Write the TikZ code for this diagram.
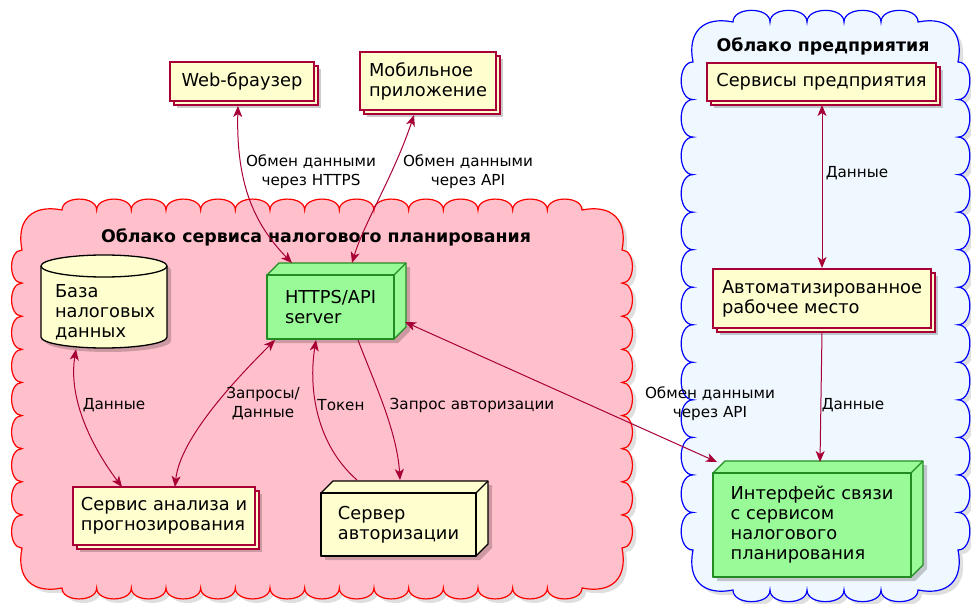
\documentclass[tikz,border=0pt]{standalone}
\usepackage{fontspec}
\setmainfont{DejaVu Sans}
\usetikzlibrary{arrows.meta,shadows}
\definecolor{cfill}{HTML}{FEFECE}
\definecolor{cbord}{HTML}{A80036}
\definecolor{gfill}{HTML}{98FB98}
\definecolor{gbord}{HTML}{228B22}
\definecolor{pinkf}{HTML}{FFC0CB}
\definecolor{bluef}{HTML}{F0F8FF}
\definecolor{arrc}{HTML}{A80036}
\tikzset{
  nfont/.style={font=\fontsize{17.8}{20}\selectfont},
  collbox/.style={draw=cbord, fill=cfill, line width=1.3pt, align=left, inner sep=0pt, outer sep=0pt, nfont},
  ybox/.style={draw=black, fill=cfill, line width=1.3pt, line join=round},
  gbox/.style={draw=gbord, fill=gfill, line width=1.3pt, line join=round},
  nshadow/.style={fill=black, opacity=0.2},
  conn/.style={draw=arrc, line width=1pt, >={Stealth[length=11pt,width=9pt,inset=3pt]}},
  lbl/.style={font=\fontsize{15.2}{19}\selectfont, align=center, inner sep=0pt},
  ttl/.style={font=\fontsize{17.4}{20}\selectfont\bfseries, inner sep=0pt},
  redcloud/.style={draw=red, fill=pinkf, line width=1.2pt, drop shadow={shadow xshift=4pt, shadow yshift=-4pt, opacity=0.25}},
  bluecloud/.style={draw=blue, fill=bluef, line width=1.2pt, drop shadow={shadow xshift=4pt, shadow yshift=-4pt, opacity=0.25}},
}
\newcommand\cloudshape[7]{%
  \pgfmathsetmacro\cwx{(#3-#1-80)/#5}%
  \pgfmathsetmacro\cwy{(#4-#2-80)/#6}%
  \pgfmathsetmacro\chx{\cwx*0.42}%
  \pgfmathsetmacro\chy{\cwy*0.42}%
  \path[#7] (#1+40,#2)
    \foreach \i in {1,...,#5}{ .. controls +(0,-\chx) and +(0,-\chx) .. ++(\cwx,0) }
    .. controls +(30,-6) and +(6,-30) .. ++(40,40)
    \foreach \i in {1,...,#6}{ .. controls +(\chy,0) and +(\chy,0) .. ++(0,\cwy) }
    .. controls +(6,30) and +(30,6) .. ++(-40,40)
    \foreach \i in {1,...,#5}{ .. controls +(0,\chx) and +(0,\chx) .. ++(-\cwx,0) }
    .. controls +(-30,6) and +(-6,30) .. ++(-40,-40)
    \foreach \i in {1,...,#6}{ .. controls +(-\chy,0) and +(-\chy,0) .. ++(0,-\cwy) }
    .. controls +(-6,-30) and +(-30,-6) .. ++(40,-40) -- cycle;
}
\newcommand\collnode[6]{%
  \fill[nshadow] (#2-#4/2+7,#3-#5/2+7) rectangle (#2+#4/2+7,#3+#5/2+7);
  \draw[draw=cbord,fill=cfill,line width=1.3pt] (#2-#4/2+4,#3-#5/2+4) rectangle (#2+#4/2+4,#3+#5/2+4);
  \node[collbox, minimum width=#4pt, minimum height=#5pt] (#1) at (#2,#3) {#6};
}
\newcommand\threed[7]{%
  \fill[nshadow] (#2-#4/2+4,#3-#5/2+4) -- ++(12,-12) -- ++(#4,0) -- ++(0,#5) -- ++(-12,12) -- ++(-#4,0) -- cycle;
  \draw[#6] (#2-#4/2,#3-#5/2) -- ++(12,-12) -- ++(#4,0) -- ++(0,#5) -- ++(-12,12) -- ++(-#4,0) -- cycle;
  \draw[#6] (#2+#4/2,#3-#5/2) -- ++(12,-12);
  \node[#6, nfont, align=left, inner sep=0pt, outer sep=0pt, minimum width=#4pt, minimum height=#5pt] (#1) at (#2,#3) {#7};
}
\begin{document}
\begin{tikzpicture}[x=1pt,y=-1pt]
\useasboundingbox[fill=white] (0,0) rectangle (971,604);
% clouds
\cloudshape{22}{210}{622}{588}{15}{9}{redcloud}
\cloudshape{693}{22}{958}{590}{5}{13}{bluecloud}
\node[ttl] (t1) at (316,237) {Облако сервиса налогового планирования};
\node[ttl] (t2) at (823,46) {Облако предприятия};
% outer nodes
\collnode{web}{242}{81.5}{144}{39}{Web-браузер}
\collnode{mob}{428}{81}{136}{58}{Мобильное\\приложение}
% database cylinder
\fill[nshadow] (45,270) -- (45,341) arc[start angle=180,end angle=360,x radius=63pt,y radius=11pt] -- (171,270) arc[start angle=0,end angle=180,x radius=63pt,y radius=11pt] -- cycle;
\draw[ybox] (41,266) -- (41,337) arc[start angle=180,end angle=360,x radius=63pt,y radius=11pt] -- (167,266) arc[start angle=0,end angle=180,x radius=63pt,y radius=11pt] -- cycle;
\draw[ybox, fill=none] (41,266) arc[start angle=180,end angle=360,x radius=63pt,y radius=11pt];
\node[nfont, align=left, inner sep=0pt, text width=98pt, minimum height=72pt] (db) at (104,312) {База\\налоговых\\данных};
% inner nodes
\threed{http}{330.5}{307}{127}{64}{gbox}{HTTPS/API\\server}
\collnode{svc}{164}{516}{182}{58}{Сервис анализа и\\прогнозирования}
\threed{auth}{398.5}{524.5}{155}{63}{ybox}{Сервер\\авторизации}
\collnode{ent}{821.5}{82}{229}{38}{Сервисы предприятия}
\collnode{arm}{822}{298.5}{218}{59}{Автоматизированное\\рабочее место}
\threed{iface}{812}{525}{198}{104}{gbox}{Интерфейс связи\\с сервисом\\налогового\\планирования}
% connectors
\draw[conn,<->] ([shift={(-4,5)}]web.south) .. controls +(-2,79) and +(-37,-38) .. ([shift={(-38.5,-12)}]http.north);
\draw[conn,<->] ([shift={(-14,5)}]mob.south) .. controls +(-20,60) and +(12,-40) .. ([shift={(21.5,-12)}]http.north);
\draw[conn,<->] ([shift={(-28,1)}]db.south) .. controls +(-8,50) and +(-30,-40) .. ([shift={(-42,0)}]svc.north);
\draw[conn,<->] ([shift={(-55.5,1)}]http.south) .. controls +(-35,35) and +(5,-50) .. ([shift={(11,0)}]svc.north);
\draw[conn,->] ([shift={(-41.5,-13)}]auth.north) .. controls +(-40,-35) and +(-8,50) .. ([shift={(-14.5,1)}]http.south);
\draw[conn,->] ([shift={(27.5,1)}]http.south) .. controls +(15,40) and +(-3,-50) .. ([shift={(1.5,-13)}]auth.north);
\draw[conn,<->] ([shift={(11,15)}]http.east) -- ([shift={(-95,-11)}]iface.north);
\draw[conn,<->] ([shift={(0.5,4)}]ent.south) -- ([shift={(0,-1)}]arm.north);
\draw[conn,->] ([shift={(0,4)}]arm.south) -- ([shift={(8,-11)}]iface.north);
% labels
\node[lbl] (l1) at (311,172) {Обмен данными\\через HTTPS};
\node[lbl] (l2) at (468,172) {Обмен данными\\через API};
\node[lbl] (l3) at (114,405) {Данные};
\node[lbl] (l4) at (263,404) {Запросы/\\Данные};
\node[lbl] (l5) at (341,405) {Токен};
\node[lbl] (l6) at (472,405) {Запрос авторизации};
\node[lbl] (l7) at (710,404) {Обмен данными\\через API};
\node[lbl] (l8) at (857,173) {Данные};
\node[lbl] (l9) at (853,405) {Данные};
\end{tikzpicture}
\end{document}
